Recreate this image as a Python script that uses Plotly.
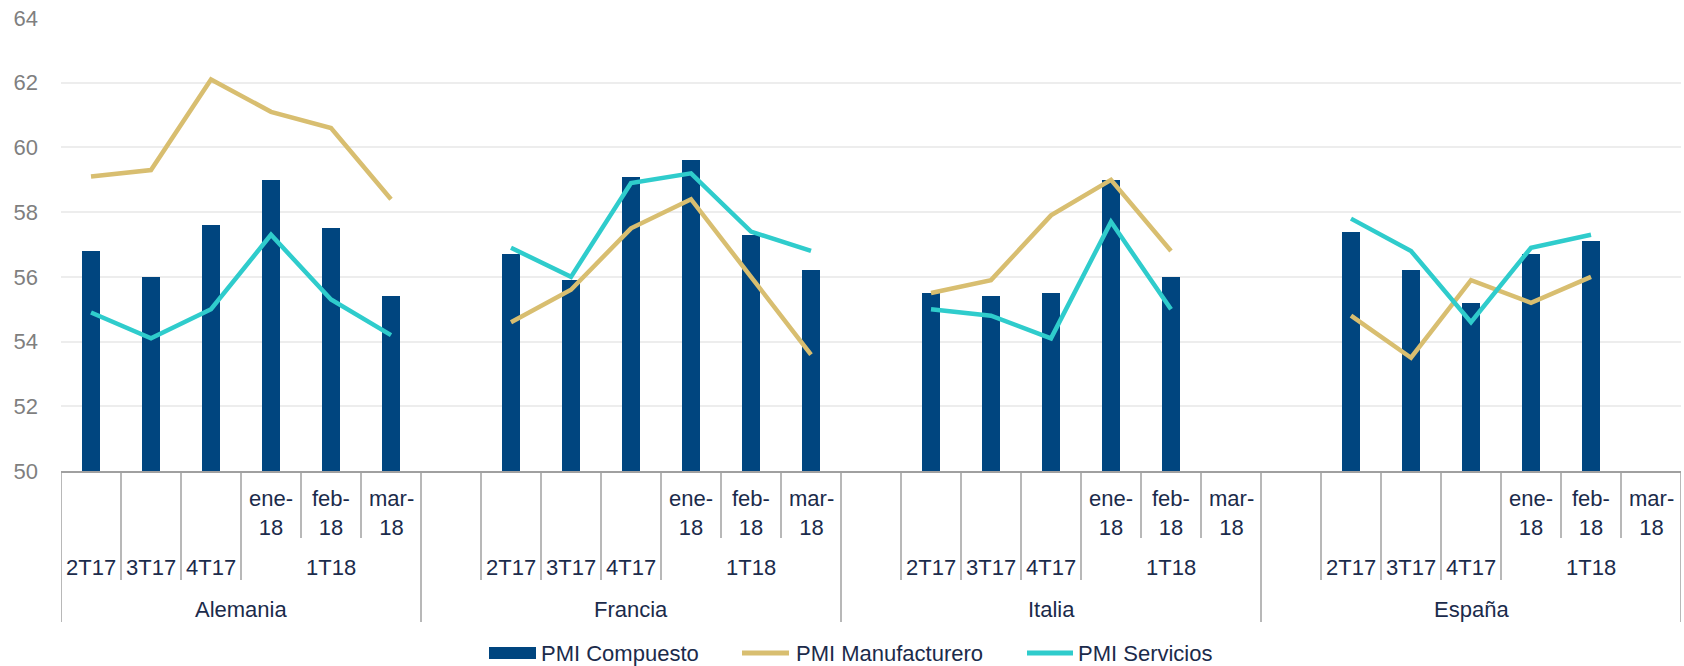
import plotly.graph_objects as go

# categories
countries = ["Alemania", "Francia", "Italia", "España"]
periods = ["2T17", "3T17", "4T17", "ene-<br>18", "feb-<br>18", "mar-<br>18"]
quarters = ["2T17", "3T17", "4T17", "1T18"]

# PMI Compuesto (bars)
comp_alemania = [56.8, 56.0, 57.6, 59.0, 57.5, 55.4]
comp_francia = [56.7, 55.9, 59.1, 59.6, 57.3, 56.2]
comp_italia = [55.5, 55.4, 55.5, 59.0, 56.0, None]
comp_espana = [57.4, 56.2, 55.2, 56.7, 57.1, None]

# PMI Manufacturero (line)
manu_alemania = [59.1, 59.3, 62.1, 61.1, 60.6, 58.4]
manu_francia = [54.6, 55.6, 57.5, 58.4, 56.0, 53.6]
manu_italia = [55.5, 55.9, 57.9, 59.0, 56.8, None]
manu_espana = [54.8, 53.5, 55.9, 55.2, 56.0, None]

# PMI Servicios (line)
serv_alemania = [54.9, 54.1, 55.0, 57.3, 55.3, 54.2]
serv_francia = [56.9, 56.0, 58.9, 59.2, 57.4, 56.8]
serv_italia = [55.0, 54.8, 54.1, 57.7, 55.0, None]
serv_espana = [57.8, 56.8, 54.6, 56.9, 57.3, None]

NAVY = "#00457F"
GOLD = "#D8BE70"
TEAL = "#2FCCCC"
TXT = "#1B2B4B"
SEP = "#A0A0A0"
FONT = "Liberation Sans, Arial, sans-serif"

# plot area in pixels (for placing the hand-drawn multi-level axis)
L, R, T, B = 61, 1681, 18, 471


def py(p):
    return (B - p) / (B - T)


def px_(p):
    return (p - L) / (R - L)


# x positions: first country has 6 columns, the others a blank column + 6
xs, start = [], 0
for k in range(len(countries)):
    if k > 0:
        start += 1
    xs.append(list(range(start, start + len(periods))))
    start += len(periods)


def join(series):
    out_x, out_y = [], []
    for k, vals in enumerate(series):
        if k > 0:
            out_x.append(xs[k][0] - 1)
            out_y.append(None)
        out_x += xs[k]
        out_y += vals
    return out_x, out_y


comp = [comp_alemania, comp_francia, comp_italia, comp_espana]
manu = [manu_alemania, manu_francia, manu_italia, manu_espana]
serv = [serv_alemania, serv_francia, serv_italia, serv_espana]

fig = go.Figure()
bx, by = join(comp)
fig.add_trace(go.Bar(x=bx, y=[None if v is None else v - 50 for v in by], base=50,
                     marker=dict(color=NAVY, line=dict(width=0)),
                     width=0.29, name="PMI Compuesto"))
for name, data, col in [("PMI Manufacturero", manu, GOLD), ("PMI Servicios", serv, TEAL)]:
    lx, ly = join(data)
    fig.add_trace(go.Scatter(x=lx, y=ly, mode="lines", name=name, connectgaps=False,
                             line=dict(color=col, width=4.5)))

shapes, annots = [], []


def vline(x, bottom):
    shapes.append(dict(type="line", xref="x", yref="paper", x0=x, x1=x,
                       y0=0, y1=py(bottom), line=dict(color=SEP, width=1.5)))


def label(x, y, text):
    annots.append(dict(x=x, y=py(y), xref="x", yref="paper", text=text, showarrow=False,
                       font=dict(family=FONT, size=22, color=TXT), xanchor="center",
                       yanchor="middle"))


vline(-0.5, 622)
for k, c in enumerate(countries):
    cx = xs[k]
    left = cx[0] - 0.5 if k == 0 else cx[0] - 1.5
    right = cx[-1] + 0.5
    vline(right, 622)
    if k > 0:
        vline(cx[0] - 0.5, 580)
    for j in range(1, 4):
        vline(cx[j] - 0.5, 580)
    for j in range(4, 6):
        vline(cx[j] - 0.5, 538)
    for j in range(3, 6):
        label(cx[j], 513, periods[j])
    for j in range(3):
        label(cx[j], 567, quarters[j])
    label(cx[4], 567, quarters[3])
    label((left + right) / 2, 609, c)

# legend drawn by hand to get the wide bar swatch
leg_y = py(653)
shapes.append(dict(type="rect", xref="paper", yref="paper", x0=px_(489), x1=px_(536),
                   y0=py(659), y1=py(647), fillcolor=NAVY, line=dict(width=0)))
shapes.append(dict(type="line", xref="paper", yref="paper", x0=px_(742), x1=px_(789),
                   y0=leg_y, y1=leg_y, line=dict(color=GOLD, width=5)))
shapes.append(dict(type="line", xref="paper", yref="paper", x0=px_(1027), x1=px_(1073),
                   y0=leg_y, y1=leg_y, line=dict(color=TEAL, width=5)))
for x0, txt in [(539, "PMI Compuesto"), (794, "PMI Manufacturero"), (1076, "PMI Servicios")]:
    annots.append(dict(x=px_(x0), y=leg_y, xref="paper", yref="paper", text=txt,
                       showarrow=False, xanchor="left", yanchor="middle",
                       font=dict(family=FONT, size=22, color=TXT)))

fig.update_layout(
    width=1684, height=666,
    margin=dict(l=L, r=1684 - R, t=T, b=666 - B),
    plot_bgcolor="white", paper_bgcolor="white",
    showlegend=False, bargap=0,
    shapes=shapes, annotations=annots,
    xaxis=dict(range=[-0.5, xs[-1][-1] + 0.5], showticklabels=False, showgrid=False,
               zeroline=False, showline=True, linecolor=SEP, linewidth=2, ticks=""),
    yaxis=dict(range=[50, 64], dtick=2, showgrid=True, gridcolor="#EDEDED", gridwidth=1.5,
               zeroline=False, ticks="", ticklabelstandoff=22,
               tickfont=dict(family=FONT, size=22, color="#7F7F7F")),
)

# page body has a default 8px margin; drop it so the figure fills the window
fig.write_html("out.html", config={"displayModeBar": False},
               post_script="document.body.style.margin='0';")
